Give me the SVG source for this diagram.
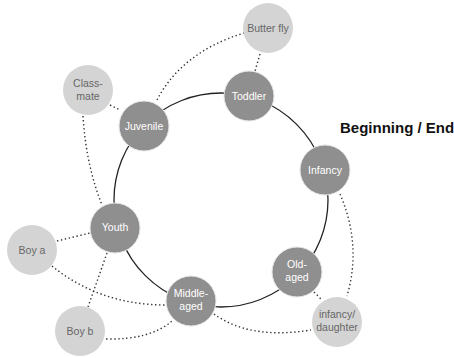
<svg xmlns="http://www.w3.org/2000/svg" width="454" height="358" viewBox="0 0 454 358">
<style>
.ring{fill:none;stroke:#222;stroke-width:1.3}
.dot{fill:none;stroke:#333;stroke-width:1.4;stroke-dasharray:1.4 2.6}
.dk{fill:#8f8f8f;stroke:#e6e6e6;stroke-width:1}
.lt{fill:#d4d4d4}
.tw{font-family:"Liberation Sans",Arial,sans-serif;font-size:10.5px;fill:#fff;text-anchor:middle}
.tg{font-family:"Liberation Sans",Arial,sans-serif;font-size:10.5px;fill:#666;text-anchor:middle}
.title{font-family:"Liberation Sans",Arial,sans-serif;font-size:15px;font-weight:bold;fill:#111}
</style>
<rect width="454" height="358" fill="#fff"/>
<g id="connectors">
<circle class="ring" cx="221" cy="200" r="107"/>
<path class="dot" d="M157,100 Q182,52 244,33"/>
<path class="dot" d="M260,54 L255,71"/>
<path class="dot" d="M110,105 L120,110"/>
<path class="dot" d="M83,116 Q86,165 102,205"/>
<path class="dot" d="M107,253 L88,307"/>
<path class="dot" d="M57,241 L90,233"/>
<path class="dot" d="M52,266 Q100,305 166,305"/>
<path class="dot" d="M106,339 Q150,340 172,321"/>
<path class="dot" d="M214,314 Q250,340 311,330"/>
<path class="dot" d="M340,194 Q362,245 347,296"/>
<path class="dot" d="M314,292 L321,299"/>
</g>
<g id="toddler"><circle class="dk" cx="249" cy="96" r="25"/><text class="tw" x="249" y="100">Toddler</text></g>
<g id="infancy"><circle class="dk" cx="325" cy="170" r="25"/><text class="tw" x="325" y="174">Infancy</text></g>
<g id="old-aged"><circle class="dk" cx="297" cy="272" r="25"/><text class="tw" x="297" y="268">Old-</text><text class="tw" x="297" y="281">aged</text></g>
<g id="middle-aged"><circle class="dk" cx="191" cy="301" r="25"/><text class="tw" x="191" y="297">Middle-</text><text class="tw" x="191" y="310">aged</text></g>
<g id="youth"><circle class="dk" cx="115" cy="228" r="25"/><text class="tw" x="115" y="231">Youth</text></g>
<g id="juvenile"><circle class="dk" cx="144" cy="126" r="25"/><text class="tw" x="144" y="130">Juvenile</text></g>
<g id="butterfly"><circle class="lt" cx="268" cy="28" r="25"/><text class="tg" x="268" y="32">Butter fly</text></g>
<g id="classmate"><circle class="lt" cx="88" cy="90" r="25"/><text class="tg" x="88" y="87">Class-</text><text class="tg" x="88" y="100">mate</text></g>
<g id="boy-a"><circle class="lt" cx="32" cy="250" r="25"/><text class="tg" x="32" y="254">Boy a</text></g>
<g id="boy-b"><circle class="lt" cx="80" cy="331" r="25"/><text class="tg" x="80" y="335">Boy b</text></g>
<g id="daughter"><circle class="lt" cx="337" cy="322" r="25"/><text class="tg" x="337" y="318">infancy/</text><text class="tg" x="337" y="331">daughter</text></g>
<text class="title" x="340" y="133">Beginning / End</text>
</svg>
